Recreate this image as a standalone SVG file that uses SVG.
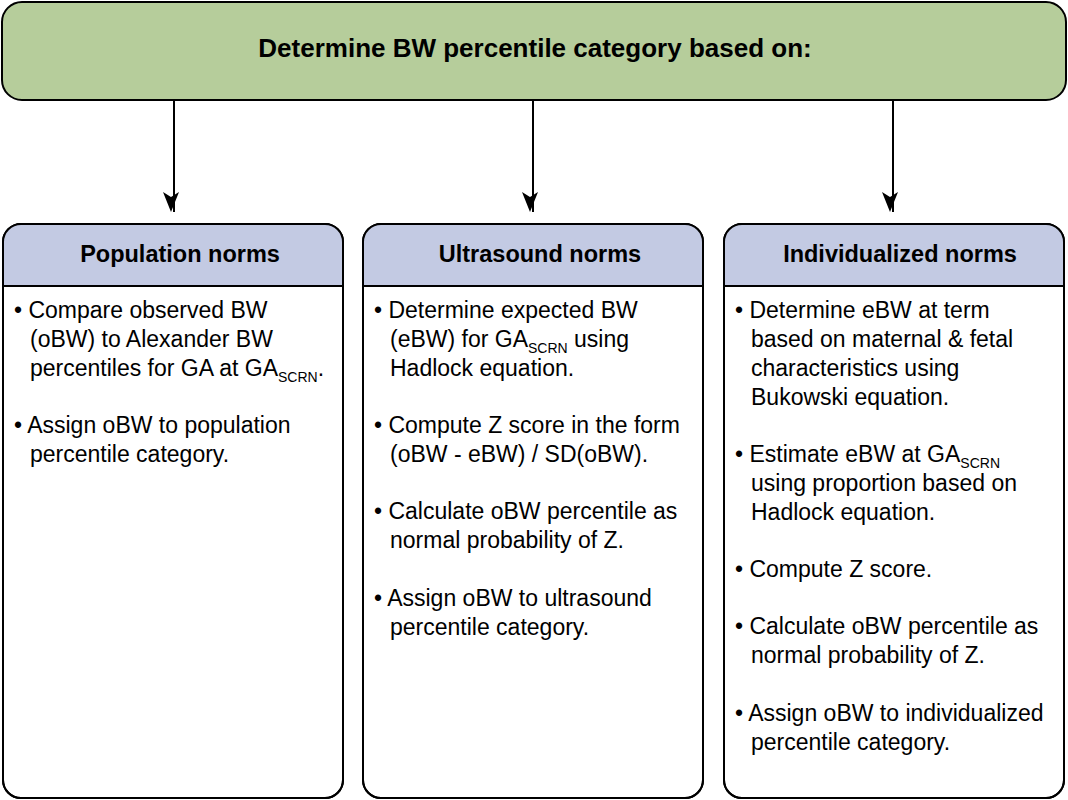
<svg xmlns="http://www.w3.org/2000/svg" width="1068" height="800" viewBox="0 0 1068 800">
<defs>
<marker id="ah" markerWidth="16" markerHeight="22" refX="11" refY="20" orient="0" markerUnits="userSpaceOnUse"><path d="M3,0 L11,20 L19,0 L11,5 Z" fill="#000" transform="translate(-3,0)"/></marker>
<clipPath id="c1"><rect x="3" y="224" width="340" height="574" rx="18"/></clipPath>
<clipPath id="c2"><rect x="363" y="224" width="340" height="574" rx="18"/></clipPath>
<clipPath id="c3"><rect x="724" y="224" width="340" height="574" rx="18"/></clipPath>
</defs>
<style>
text{font-family:"Liberation Sans",Arial,sans-serif;fill:#000}
.t{font-size:26px;font-weight:bold}
.h{font-size:23.5px;font-weight:bold}
.b{font-size:23px}
.s{font-size:14px}
.box{fill:#fff;stroke:#000;stroke-width:2}
.hd{fill:#c3cae3}
</style>
<g id="top"><rect x="2" y="2" width="1064" height="98" rx="20" fill="#b6cd9b" stroke="#000" stroke-width="2"/><text class="t" x="535" y="57" text-anchor="middle">Determine BW percentile category based on:</text></g>
<g id="connectors" stroke="#000" stroke-width="2">
<line x1="174" y1="100" x2="174" y2="212" marker-end="url(#ah)"/>
<line x1="533" y1="100" x2="533" y2="212" marker-end="url(#ah)"/>
<line x1="893" y1="100" x2="893" y2="212" marker-end="url(#ah)"/>
</g>
<g id="population">
<rect class="box" x="3" y="224" width="340" height="574" rx="18"/>
<rect class="hd" x="3" y="224" width="340" height="62" clip-path="url(#c1)"/>
<rect x="3" y="224" width="340" height="574" rx="18" fill="none" stroke="#000" stroke-width="2"/>
<line x1="3" y1="286" x2="343" y2="286" stroke="#000" stroke-width="2"/>
<text class="h" x="180" y="262" text-anchor="middle">Population norms</text>
<text class="b" x="14" y="318">• Compare observed BW</text>
<text class="b" x="30" y="347">(oBW) to Alexander BW</text>
<text class="b" x="30" y="376">percentiles for GA at GA<tspan class="s" dy="6">SCRN</tspan><tspan dy="-6">.</tspan></text>
<text class="b" x="14" y="433">• Assign oBW to population</text>
<text class="b" x="30" y="462">percentile category.</text>
</g>
<g id="ultrasound">
<rect class="box" x="363" y="224" width="340" height="574" rx="18"/>
<rect class="hd" x="363" y="224" width="340" height="62" clip-path="url(#c2)"/>
<rect x="363" y="224" width="340" height="574" rx="18" fill="none" stroke="#000" stroke-width="2"/>
<line x1="363" y1="286" x2="703" y2="286" stroke="#000" stroke-width="2"/>
<text class="h" x="540" y="262" text-anchor="middle">Ultrasound norms</text>
<text class="b" x="374" y="318">• Determine expected BW</text>
<text class="b" x="390" y="347">(eBW) for GA<tspan class="s" dy="6">SCRN</tspan><tspan dy="-6"> using</tspan></text>
<text class="b" x="390" y="376">Hadlock equation.</text>
<text class="b" x="374" y="433">• Compute Z score in the form</text>
<text class="b" x="390" y="462">(oBW - eBW) / SD(oBW).</text>
<text class="b" x="374" y="519">• Calculate oBW percentile as</text>
<text class="b" x="390" y="548">normal probability of Z.</text>
<text class="b" x="374" y="606">• Assign oBW to ultrasound</text>
<text class="b" x="390" y="635">percentile category.</text>
</g>
<g id="individualized">
<rect class="box" x="724" y="224" width="340" height="574" rx="18"/>
<rect class="hd" x="724" y="224" width="340" height="62" clip-path="url(#c3)"/>
<rect x="724" y="224" width="340" height="574" rx="18" fill="none" stroke="#000" stroke-width="2"/>
<line x1="724" y1="286" x2="1064" y2="286" stroke="#000" stroke-width="2"/>
<text class="h" x="900" y="262" text-anchor="middle">Individualized norms</text>
<text class="b" x="735" y="318">• Determine eBW at term</text>
<text class="b" x="751" y="347">based on maternal &amp; fetal</text>
<text class="b" x="751" y="376">characteristics using</text>
<text class="b" x="751" y="405">Bukowski equation.</text>
<text class="b" x="735" y="462">• Estimate eBW at GA<tspan class="s" dy="6">SCRN</tspan></text>
<text class="b" x="751" y="491">using proportion based on</text>
<text class="b" x="751" y="520">Hadlock equation.</text>
<text class="b" x="735" y="577">• Compute Z score.</text>
<text class="b" x="735" y="634">• Calculate oBW percentile as</text>
<text class="b" x="751" y="663">normal probability of Z.</text>
<text class="b" x="735" y="721">• Assign oBW to individualized</text>
<text class="b" x="751" y="750">percentile category.</text>
</g>
</svg>
